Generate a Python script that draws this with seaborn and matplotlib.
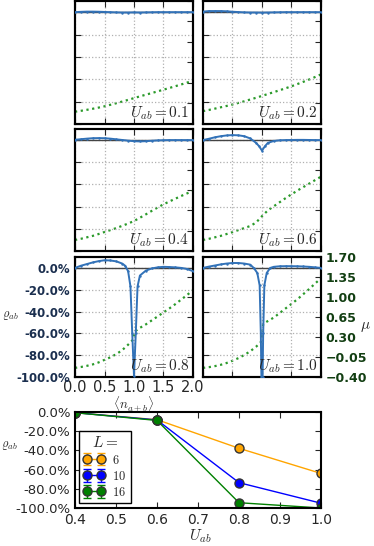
import matplotlib
matplotlib.use("Agg")
import matplotlib.pyplot as plt
from matplotlib.ticker import FuncFormatter, FixedLocator
import seaborn as sns

sns.set_style("ticks")
plt.rcParams.update({
    "font.family": ["DejaVu Sans"],
    "mathtext.fontset": "cm",
    "axes.unicode_minus": True,
    "xtick.direction": "in",
    "ytick.direction": "in",
    "xtick.top": True,
    "xtick.major.size": 4,
    "ytick.major.size": 4,
    "axes.linewidth": 1.5,
    "axes.edgecolor": "black",
})

# ---- data: small panels, rho_ab and mu vs <n_a+b> ----
n_step = [0.0, 0.1, 0.2, 0.3, 0.4, 0.5, 0.6, 0.7, 0.8, 0.9, 1.0,
          1.1, 1.2, 1.3, 1.4, 1.5, 1.6, 1.7, 1.8, 1.9, 2.0]

rho_01 = [0.0, 0.003, 0.005, 0.005, 0.004, 0.002, 0.0, -0.002, -0.003, -0.003, -0.002,
          -0.003, -0.002, -0.001, 0.0, 0.0, 0.0, 0.0, 0.0, 0.0, 0.0]
mu_01 = [-0.19, -0.175, -0.158, -0.14, -0.12, -0.098, -0.072, -0.045, -0.017, 0.012, 0.042,
         0.072, 0.1, 0.128, 0.157, 0.186, 0.215, 0.245, 0.275, 0.307, 0.34]

rho_02 = [0.005, 0.01, 0.01, 0.01, 0.008, 0.004, 0.001, -0.002, -0.003, -0.003, -0.004,
          -0.003, -0.002, -0.001, 0.0, 0.0, 0.0, 0.0, 0.0, 0.0, 0.0]
mu_02 = [-0.18, -0.16, -0.138, -0.115, -0.092, -0.067, -0.04, -0.012, 0.018, 0.048, 0.08,
         0.112, 0.144, 0.177, 0.21, 0.244, 0.282, 0.32, 0.36, 0.402, 0.447]

rho_04 = [0.003, 0.008, 0.013, 0.017, 0.018, 0.017, 0.013, 0.007, 0.001, -0.005, -0.01,
          -0.012, -0.01, -0.006, -0.003, -0.001, 0.0, 0.0, 0.0, 0.0, 0.0]
mu_04 = [-0.21, -0.19, -0.165, -0.14, -0.108, -0.073, -0.04, -0.005, 0.033, 0.073, 0.116,
         0.172, 0.23, 0.29, 0.348, 0.404, 0.452, 0.5, 0.547, 0.592, 0.633]

n_rho_06 = [0.0, 0.1, 0.2, 0.3, 0.4, 0.5, 0.6, 0.7, 0.8, 0.9, 0.95, 1.0, 1.05,
            1.1, 1.2, 1.3, 1.4, 1.5, 1.6, 1.7, 1.8, 1.9, 2.0]
rho_06 = [0.0, 0.012, 0.025, 0.035, 0.042, 0.045, 0.043, 0.035, 0.015, -0.025, -0.055, -0.095, -0.055,
          -0.025, -0.008, -0.002, 0.0, 0.001, 0.002, 0.002, 0.001, 0.0, 0.0]
mu_06 = [-0.21, -0.19, -0.165, -0.14, -0.108, -0.075, -0.04, -0.005, 0.03, 0.09, 0.2,
         0.3, 0.37, 0.44, 0.51, 0.576, 0.64, 0.7, 0.76, 0.82, 0.88]

n_rho_08 = [0.0, 0.1, 0.2, 0.3, 0.4, 0.5, 0.6, 0.7, 0.8, 0.85, 0.9, 0.94, 0.97, 1.0,
            1.03, 1.06, 1.1, 1.2, 1.3, 1.4, 1.5, 1.6, 1.7, 1.8, 1.9, 2.0]
rho_08 = [0.0, 0.02, 0.035, 0.05, 0.062, 0.07, 0.068, 0.06, 0.04, 0.02, -0.03, -0.17, -0.6, -0.99,
          -0.6, -0.17, -0.07, -0.025, -0.005, 0.005, 0.01, 0.008, 0.005, 0.0, -0.01, -0.03]
n_mu_08 = [0.0, 0.1, 0.2, 0.3, 0.4, 0.5, 0.6, 0.7, 0.8, 0.9, 0.98, 1.0, 1.02,
           1.1, 1.2, 1.3, 1.4, 1.5, 1.6, 1.7, 1.8, 1.9, 2.0]
mu_08 = [-0.24, -0.225, -0.205, -0.18, -0.145, -0.10, -0.055, 0.0, 0.07, 0.165, 0.25, 0.32, 0.40,
         0.46, 0.52, 0.59, 0.66, 0.73, 0.80, 0.875, 0.955, 1.035, 1.12]

n_rho_10 = [0.0, 0.1, 0.2, 0.3, 0.4, 0.5, 0.6, 0.7, 0.8, 0.86, 0.92, 0.96, 0.98, 0.99,
            1.01, 1.02, 1.04, 1.08, 1.14, 1.2, 1.3, 1.4, 1.5, 1.6, 1.7, 1.8, 1.9, 2.0]
rho_10 = [0.0, 0.012, 0.022, 0.032, 0.04, 0.045, 0.045, 0.04, 0.03, 0.0, -0.046, -0.16, -0.6, -1.0,
          -1.0, -0.6, -0.16, -0.046, 0.0, 0.01, 0.015, 0.016, 0.016, 0.015, 0.013, 0.01, 0.005, 0.0]
n_mu_10 = n_mu_08
mu_10 = [-0.24, -0.228, -0.21, -0.187, -0.155, -0.115, -0.07, -0.015, 0.05, 0.13, 0.21, 0.32, 0.53,
         0.58, 0.64, 0.72, 0.80, 0.88, 0.96, 1.05, 1.14, 1.235, 1.33]

# ---- data: bottom panel ----
U_vals = [0.4, 0.6, 0.8, 1.0]
rho_L6 = [-0.007, -0.08, -0.378, -0.64]
rho_L10 = [-0.007, -0.083, -0.736, -0.95]
rho_L16 = [-0.007, -0.088, -0.945, -1.0]
err_L6 = [0.01, 0.01, 0.01, 0.01]
err_L10 = [0.01, 0.01, 0.01, 0.01]
err_L16 = [0.01, 0.01, 0.01, 0.01]

rho_ticks = [-1.0, -0.8, -0.6, -0.4, -0.2, 0.0]
mu_ticks = [-0.40, -0.05, 0.30, 0.65, 1.00, 1.35, 1.70]

W, H = 374, 546
fig = plt.figure(figsize=(W / 100, H / 100), dpi=100)


def px_axes(x0, y0, x1, y1):
    return fig.add_axes([x0 / W, 1 - y1 / H, (x1 - x0) / W, (y1 - y0) / H])


blue = "#3272b8"
green = "#2b9a2b"
navy = "#1b2f4f"
dgreen = "#123e12"
pct = FuncFormatter(lambda v, _: f"{v * 100:.1f}%")
mufmt = FuncFormatter(lambda v, _: f"{v:.2f}".replace("-", "\u2212"))

panels = [
    (0.1, n_step, rho_01, n_step, mu_01),
    (0.2, n_step, rho_02, n_step, mu_02),
    (0.4, n_step, rho_04, n_step, mu_04),
    (0.6, n_rho_06, rho_06, n_step, mu_06),
    (0.8, n_rho_08, rho_08, n_mu_08, mu_08),
    (1.0, n_rho_10, rho_10, n_mu_10, mu_10),
]
cols = [(75, 193), (203, 321)]
rows = [(1, 124), (129, 251), (257, 377)]

for i, (U, nr, rr, nm, mm) in enumerate(panels):
    r, c = divmod(i, 2)
    ax = px_axes(cols[c][0], rows[r][0], cols[c][1], rows[r][1])
    ax2 = ax.twinx()
    ax.set_zorder(ax2.get_zorder() + 1)
    ax.patch.set_visible(False)

    ax.axhline(0, color="#444444", lw=1.0, zorder=1)
    sns.lineplot(x=nr, y=rr, ax=ax, color=blue, lw=1.4, marker=".", markersize=3.5,
                 markeredgewidth=0, zorder=3)
    sns.lineplot(x=nm, y=mm, ax=ax2, color=green, lw=1.6, dashes=(1, 1.6))

    ax.set_xlim(0, 2)
    ax.set_ylim(-1.0, 0.1)
    ax2.set_ylim(-0.4, 1.7)
    ax.set_xticks([0.0, 0.5, 1.0, 1.5, 2.0])
    ax.yaxis.set_major_locator(FixedLocator(rho_ticks))
    ax2.yaxis.set_major_locator(FixedLocator(mu_ticks))
    ax.grid(True, ls=":", color="#b0b0b0", lw=0.9)
    ax.set_xlabel("")
    ax.set_ylabel("")
    ax2.set_ylabel("")
    ax.text(0.97, 0.02, f"$U_{{ab}}={U}$", transform=ax.transAxes,
            ha="right", va="bottom", fontsize=11, zorder=5)
    ax2.tick_params(axis="y", direction="in", length=4)

    if r == 2 and c == 0:
        ax.yaxis.set_major_formatter(pct)
        ax.tick_params(axis="y", labelsize=8.5, labelcolor=navy)
        for t in ax.get_yticklabels():
            t.set_fontweight("bold")
        ax.tick_params(axis="x", labelsize=10.5, pad=2.5)
    else:
        ax.tick_params(axis="y", labelleft=False)
        ax.tick_params(axis="x", labelbottom=False)
    if r == 2 and c == 1:
        ax2.yaxis.set_major_formatter(mufmt)
        ax2.tick_params(axis="y", labelsize=9, labelcolor=dgreen)
        for t in ax2.get_yticklabels():
            t.set_fontweight("bold")
    else:
        ax2.tick_params(axis="y", labelright=False)

fig.text(10 / W, 1 - 316 / H, r"$\varrho_{ab}$", ha="center", va="center", fontsize=9)
fig.text(365 / W, 1 - 327 / H, r"$\mu$", ha="center", va="center", fontsize=11)
fig.text(134 / W, 1 - 404.5 / H, r"$\langle n_{a+b}\rangle$", ha="center", va="center",
         fontsize=9.5, zorder=10)

# ---- bottom panel ----
axb = px_axes(75, 412, 321, 508)
for U_y, err, col, lab in [(rho_L6, err_L6, "#ffa500", "$6$"),
                           (rho_L10, err_L10, "#0000ff", "$10$"),
                           (rho_L16, err_L16, "#008000", "$16$")]:
    axb.errorbar(U_vals, U_y, yerr=err, fmt="o-", color=col, mfc=col, mec="#333333",
                 ms=6.5, lw=1.0, capsize=3, label=lab)
axb.set_xlim(0.4, 1.0)
axb.set_ylim(-1.0, 0.0)
axb.set_xticks([0.4, 0.5, 0.6, 0.7, 0.8, 0.9, 1.0])
axb.yaxis.set_major_locator(FixedLocator(rho_ticks))
axb.yaxis.set_major_formatter(pct)
axb.tick_params(axis="both", labelsize=10, right=True, top=True)
axb.tick_params(axis="y", labelsize=9.5)
leg = axb.legend(title="$L=$", loc="upper left", numpoints=2, fontsize=9,
                 bbox_to_anchor=(79 / W, 1 - 431 / H), bbox_transform=fig.transFigure,
                 borderaxespad=0, fancybox=False, framealpha=1, edgecolor="black",
                 handlelength=1.7, handletextpad=0.6, borderpad=0.35, labelspacing=0.25)
leg.get_title().set_fontsize(11)
leg.get_frame().set_linewidth(1.0)

fig.text(9 / W, 1 - 446 / H, r"$\varrho_{ab}$", ha="center", va="center", fontsize=9)
fig.text(200 / W, 1 - 536 / H, r"$U_{ab}$", ha="center", va="center", fontsize=11)

fig.savefig("out.png", dpi=100)
